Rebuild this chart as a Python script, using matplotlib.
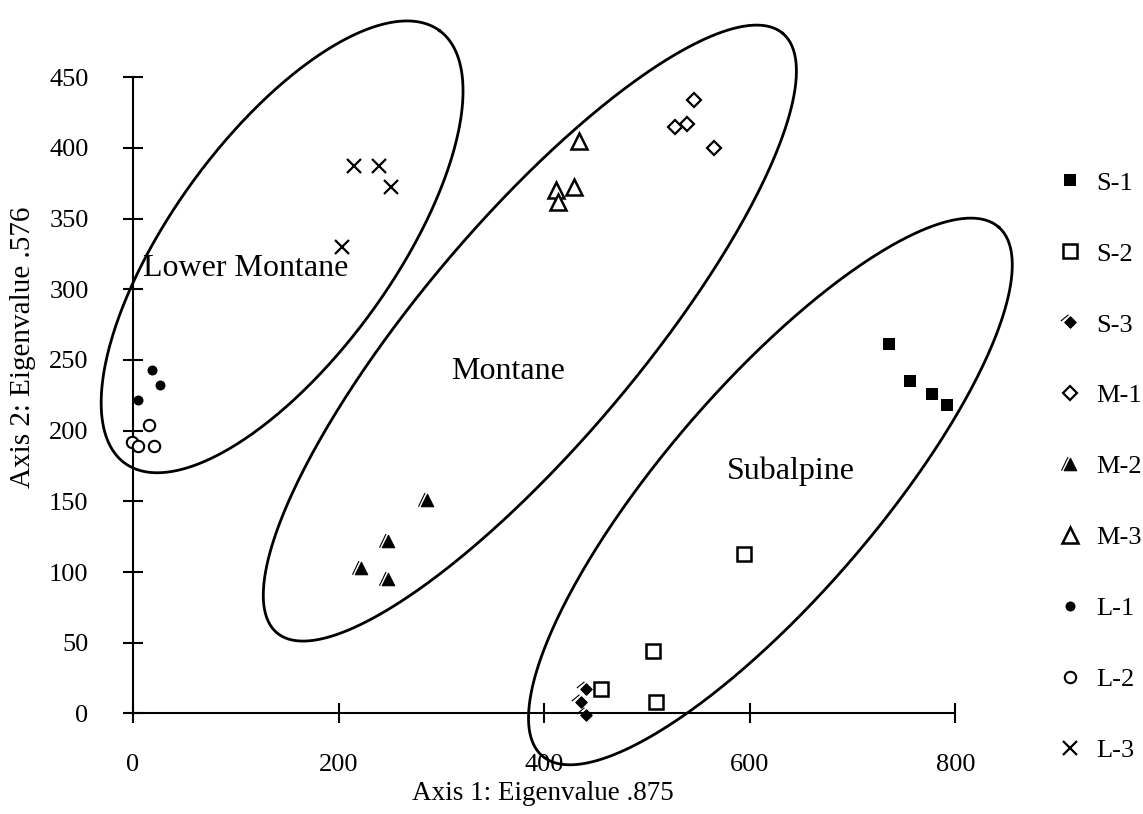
import numpy as np
import matplotlib
matplotlib.use("Agg")
import matplotlib.pyplot as plt
from matplotlib.path import Path

plt.rcParams['font.family'] = ['Liberation Serif', 'DejaVu Serif']

# ordination scores (axis 1, axis 2) per stand group
s1_x = [735, 756, 777, 792]
s1_y = [261, 235, 226, 218]
s2_x = [506, 455, 509, 594]
s2_y = [44, 17, 8, 113]
s3_x = [441, 436, 441]
s3_y = [17, 8, -1]
m1_x = [546, 527, 539, 565]
m1_y = [434, 415, 417, 400]
m2_x = [286, 248, 222, 248]
m2_y = [151, 122, 103, 95]
m3_x = [434, 411, 429, 413]
m3_y = [405, 370, 372, 362]
l1_x = [18, 26, 5]
l1_y = [243, 232, 222]
l2_x = [16, -1, 5, 20]
l2_y = [204, 192, 189, 189]
l3_x = [215, 239, 251, 203]
l3_y = [387, 387, 372, 330]

# vegetation zones: centre plus two conjugate half-axes, in axis units
zone_names = ["Lower Montane", "Montane", "Subalpine"]
zone_centres = [(145, 330), (386, 269), (620, 157)]
zone_major = [(153, 153), (246, 212), (222, 187)]
zone_minor = [(-87, 46), (-82, 50), (-78, 49)]
zone_label_xy = [(110, 315), (365, 242), (640, 171)]

xticks = [0, 200, 400, 600, 800]
yticks = [0, 50, 100, 150, 200, 250, 300, 350, 400, 450]

# filled triangle / diamond with the doubled edge stroke seen in print
tri_slash = Path([(0, 1), (-1, -1), (1, -1), (0, 1), (-1.45, -1.0), (-0.4, 1.2)],
                 [Path.MOVETO, Path.LINETO, Path.LINETO, Path.CLOSEPOLY,
                  Path.MOVETO, Path.LINETO])
dia_slash = Path([(0, 1), (1, 0), (0, -1), (-1, 0), (0, 1), (-1.7, 0.25), (-0.35, 1.35)],
                 [Path.MOVETO, Path.LINETO, Path.LINETO, Path.LINETO, Path.CLOSEPOLY,
                  Path.MOVETO, Path.LINETO])

fig = plt.figure(figsize=(11.43, 8.14), dpi=100)
ax = fig.add_axes([0.1164, 0.1235, 0.7195, 0.7817])
ax.set_xlim(0, 800)
ax.set_ylim(0, 450)

t = np.linspace(0, 2 * np.pi, 400)
for c, u, v, name, lxy in zip(zone_centres, zone_major, zone_minor, zone_names, zone_label_xy):
    ex = c[0] + np.cos(t) * u[0] + np.sin(t) * v[0]
    ey = c[1] + np.cos(t) * u[1] + np.sin(t) * v[1]
    ax.plot(ex, ey, color='black', lw=2.0, clip_on=False, zorder=2)
    ax.text(lxy[0], lxy[1], name, fontsize=23, ha='center', va='center', zorder=3)

kw = dict(linestyle='none', color='black', clip_on=False, zorder=4)
ax.plot(s1_x, s1_y, marker='s', ms=8, mfc='black', mew=0, label='S-1', **kw)
ax.plot(s2_x, s2_y, marker='s', ms=9.8, mfc='white', mew=1.8, label='S-2', **kw)
ax.plot(s3_x, s3_y, marker=dia_slash, ms=14, mfc='black', mew=0.8, label='S-3', **kw)
ax.plot(m1_x, m1_y, marker='D', ms=7.4, mfc='white', mew=1.6, label='M-1', **kw)
ax.plot(m2_x, m2_y, marker=tri_slash, ms=13, mfc='black', mew=0.8, label='M-2', **kw)
ax.plot(m3_x, m3_y, marker='^', ms=11.5, mfc='white', mew=1.8, label='M-3', **kw)
ax.plot(l1_x, l1_y, marker='o', ms=7.2, mfc='black', mew=0, label='L-1', **kw)
ax.plot(l2_x, l2_y, marker='o', ms=8.2, mfc='white', mew=1.5, label='L-2', **kw)
ax.plot(l3_x, l3_y, marker='x', ms=10.5, mew=1.6, label='L-3', **kw)

for side in ['top', 'right']:
    ax.spines[side].set_visible(False)
for side in ['left', 'bottom']:
    ax.spines[side].set_linewidth(1.5)
ax.set_xticks(xticks)
ax.set_yticks(yticks)
ax.tick_params(direction='inout', length=14, width=1.5, labelsize=19)
ax.tick_params(axis='y', pad=25)
ax.tick_params(axis='x', pad=22)

ax.set_xlabel('Axis 1: Eigenvalue .875', fontsize=19.5, va='center')
ax.xaxis.set_label_coords(0.498, -0.125)
ax.set_ylabel('Axis 2: Eigenvalue .576', fontsize=21, va='center')
ax.yaxis.set_label_coords(-0.134, 0.576)

fig.legend(loc='upper left', bbox_to_anchor=(0.898, 0.819), frameon=False,
           fontsize=19, numpoints=1, handlelength=1.5, handletextpad=0.25,
           labelspacing=1.8)

fig.savefig('out.png', dpi=100, facecolor='white')
